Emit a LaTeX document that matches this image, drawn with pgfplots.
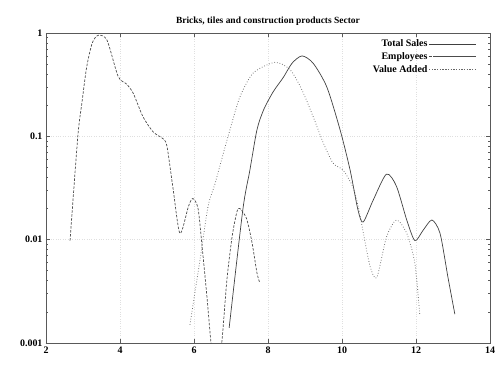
\documentclass[border=0pt]{standalone}
\usepackage{fontspec}
\setmainfont{Liberation Serif}
\usepackage{pgfplots}
\pgfplotsset{compat=1.18}
\begin{document}
\begin{tikzpicture}
\path[use as bounding box] (-46bp,-22bp) rectangle (455bp,343bp);
\begin{axis}[
  scale only axis,
  width=444bp, height=310bp,
  at={(0,0)}, anchor=south west,
  ymode=log,
  xmin=2, xmax=14, ymin=0.001, ymax=1,
  xtick={2,4,6,8,10,12,14},
  ytick={0.001,0.01,0.1,1},
  yticklabels={0.001,0.01,0.1,1},
  /pgf/number format/assume math mode=true,
  ticklabel style={font=\fontsize{10}{12}\selectfont\bfseries},
  title={Bricks, tiles and construction products Sector},
  title style={font=\fontsize{9.5}{11}\selectfont\bfseries, yshift=-2bp},
  grid=major,
  major grid style={gray!25, dotted, line width=0.6pt},
  axis line style={gray!70!black, line width=0.8pt},
  tick style={gray!70!black, line width=0.6pt},
  major tick length=4bp, minor tick length=2.5bp,
  legend style={draw=none, fill=none, at={(1,1)}, xshift=-13bp, yshift=-5bp, anchor=north east,
    font=\fontsize{10}{11}\selectfont\bfseries, row sep=1.5bp,
    inner sep=0pt, nodes={inner sep=1.5bp}},
  legend cell align=right,
  legend plot pos=right,
  legend image code/.code={\path (0bp,0bp) -- (47bp,0bp); \draw[#1] (5bp,0bp) -- (47bp,0bp);},
  every axis plot/.append style={line width=0.7pt},
]
\addplot[black!75, smooth, tension=0.45] coordinates {
(6.95,0.0014) (7.32,0.0195) (7.51,0.047) (7.7,0.115) (7.88,0.18) (8.14,0.27)
(8.41,0.37) (8.65,0.51) (8.92,0.6) (9.22,0.51) (9.59,0.30) (9.95,0.115)
(10.22,0.047) (10.43,0.0195) (10.57,0.0148) (10.84,0.024) (11.2,0.043) (11.47,0.033)
(11.75,0.0155) (11.97,0.0098) (12.19,0.0123) (12.43,0.0155) (12.65,0.0115)
(12.86,0.0044) (13.05,0.0019)
};
\addlegendentry{Total Sales}
\addplot[black!70, dashed, dash pattern=on 2.5pt off 1.5pt, smooth, tension=0.45] coordinates {
(2.65,0.0098) (2.86,0.1) (2.97,0.21) (3.1,0.47) (3.25,0.8) (3.41,0.95)
(3.65,0.85) (3.95,0.38) (4.18,0.32) (4.36,0.26) (4.62,0.155) (4.9,0.11)
(5.16,0.095) (5.27,0.08) (5.43,0.032) (5.62,0.0115) (5.85,0.021) (5.97,0.025)
(6.11,0.02) (6.22,0.0085) (6.35,0.0028) (6.46,0.001) (6.6,0.0004) (6.75,0.001)
(6.89,0.0041) (7.03,0.0107) (7.16,0.0186) (7.24,0.02) (7.42,0.016)
(7.57,0.0093) (7.7,0.0048) (7.78,0.0038)
};
\addlegendentry{Employees}
\addplot[black!60, dotted, line width=0.8pt, smooth, tension=0.45] coordinates {
(5.89,0.0015) (6.16,0.0063) (6.38,0.021) (6.57,0.035) (6.8,0.07) (6.97,0.115)
(7.24,0.24) (7.6,0.41) (8.19,0.52) (8.6,0.44) (8.92,0.28) (9.22,0.155)
(9.49,0.087) (9.76,0.055) (10.03,0.047) (10.3,0.032) (10.45,0.02) (10.57,0.012)
(10.76,0.0055) (10.94,0.0043) (11.2,0.0105) (11.47,0.0155) (11.75,0.0115)
(11.97,0.0059) (12.1,0.0019)
};
\addlegendentry{Value Added}
\end{axis}
\end{tikzpicture}
\end{document}
